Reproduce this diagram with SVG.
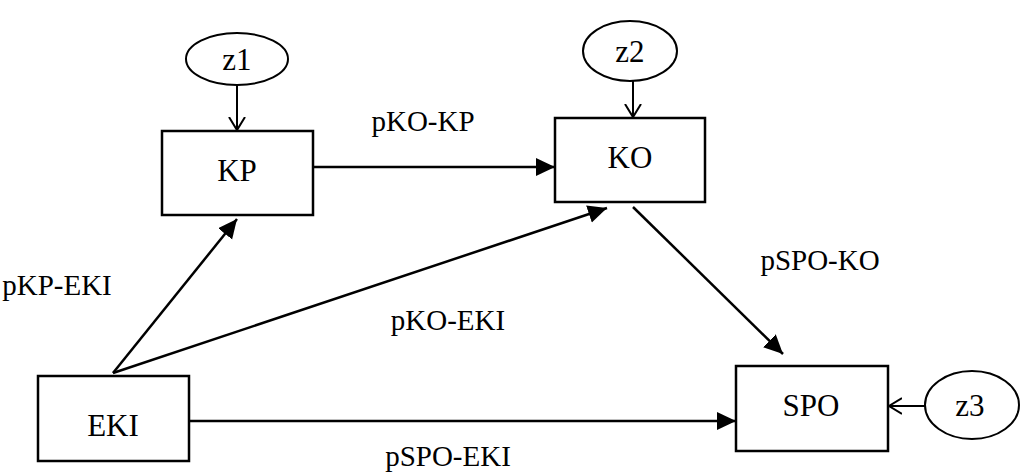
<svg xmlns="http://www.w3.org/2000/svg" width="1024" height="474" viewBox="0 0 1024 474">
<style>
.box{fill:#fff;stroke:#000;stroke-width:2.5}
.ell{fill:#fff;stroke:#000;stroke-width:2}
.t{font-family:"Liberation Serif","Times New Roman",serif;font-size:29px;fill:#000;text-anchor:middle}
.n{font-size:31px}
.c{stroke:#000;stroke-width:2.5;fill:none}
.co{stroke:#000;stroke-width:2;fill:none}
</style>
<defs>
<marker id="fa" markerUnits="userSpaceOnUse" markerWidth="22" markerHeight="20" refX="19" refY="9" orient="auto" viewBox="0 0 22 20">
<path d="M0,0 L19,9 L0,18 z" fill="#000"/>
</marker>
<marker id="oa" markerUnits="userSpaceOnUse" markerWidth="16" markerHeight="20" refX="13" refY="9" orient="auto" viewBox="0 0 16 20">
<path d="M0,1 L13,9 L0,17" fill="none" stroke="#000" stroke-width="2"/>
</marker>
</defs>
<g id="connectors">
<line class="co" x1="237" y1="85" x2="237" y2="130" marker-end="url(#oa)"/>
<line class="co" x1="633" y1="81" x2="633" y2="117" marker-end="url(#oa)"/>
<line class="co" x1="925" y1="406" x2="889" y2="406" marker-end="url(#oa)"/>
<line class="c" x1="313" y1="167" x2="555" y2="167" marker-end="url(#fa)"/>
<line class="c" x1="113" y1="373" x2="237" y2="219" marker-end="url(#fa)"/>
<line class="c" x1="113" y1="373" x2="607" y2="208" marker-end="url(#fa)"/>
<line class="c" x1="633" y1="207" x2="783" y2="354" marker-end="url(#fa)"/>
<line class="c" x1="189" y1="421" x2="736" y2="421" marker-end="url(#fa)"/>
<text class="t" x="423" y="131">pKO-KP</text>
<text class="t" x="57" y="295">pKP-EKI</text>
<text class="t" x="448" y="330">pKO-EKI</text>
<text class="t" x="820" y="270">pSPO-KO</text>
<text class="t" x="448" y="466">pSPO-EKI</text>
</g>
<g id="z1"><ellipse class="ell" cx="237" cy="59" rx="51" ry="26"/><text class="t n" x="237" y="70">z1</text></g>
<g id="z2"><ellipse class="ell" cx="630" cy="51" rx="47" ry="30"/><text class="t n" x="630" y="62">z2</text></g>
<g id="z3"><ellipse class="ell" cx="972" cy="405" rx="47" ry="34"/><text class="t n" x="970" y="416">z3</text></g>
<g id="KP"><rect class="box" x="162" y="131" width="151" height="84"/><text class="t n" x="237" y="181">KP</text></g>
<g id="KO"><rect class="box" x="555" y="118" width="150" height="84"/><text class="t n" x="630" y="168">KO</text></g>
<g id="EKI"><rect class="box" x="38" y="376" width="151" height="85"/><text class="t n" x="113" y="436">EKI</text></g>
<g id="SPO"><rect class="box" x="736" y="366" width="152" height="85"/><text class="t n" x="811" y="416">SPO</text></g>
</svg>
